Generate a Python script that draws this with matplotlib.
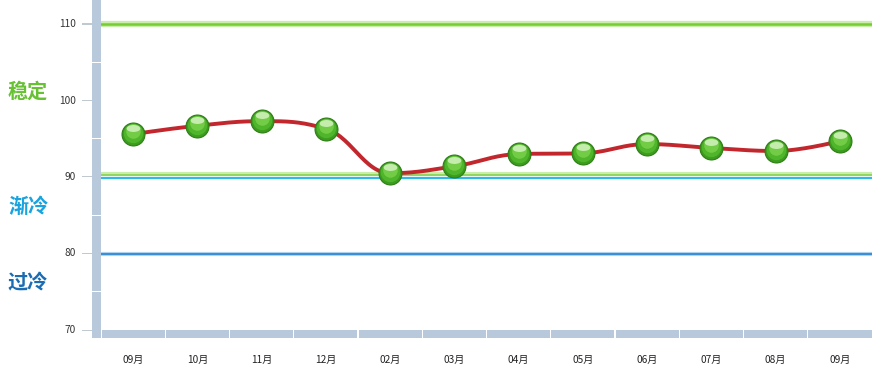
import numpy as np
import matplotlib
matplotlib.use("Agg")
import matplotlib.pyplot as plt
from matplotlib.patches import Rectangle
from matplotlib.path import Path
from matplotlib.transforms import Affine2D, offset_copy

plt.rcParams['font.family'] = ['Noto Sans CJK SC', 'DejaVu Sans']

months = ['09月', '10月', '11月', '12月', '02月', '03月', '04月', '05月', '06月', '07月', '08月', '09月']
values = [95.6, 96.7, 97.3, 96.3, 90.5, 91.4, 93.0, 93.1, 94.3, 93.8, 93.4, 94.7]
y_ticks = [70, 80, 90, 100, 110]
zone_names = ['稳定', '渐冷', '过冷']
zone_colors = ['#66c133', '#1aa3df', '#1b6db3']
zone_label_y = [101.2, 86.2, 76.2]

W, H = 891, 378
fig = plt.figure(figsize=(W / 100, H / 100), dpi=100)
fig.patch.set_facecolor('white')
left_px, right_px, bottom_px, top_px = 101, 872, 330, 0
ax = fig.add_axes([left_px / W, (H - bottom_px) / H, (right_px - left_px) / W, (bottom_px - top_px) / H])
ax.set_xlim(-0.5, len(months) - 0.5)
ymax = 110 + 24 / 7.65
ax.set_ylim(70, ymax)
for s in ax.spines.values():
    s.set_visible(False)
ax.set_xticks([])
ax.set_yticks([])
ax.patch.set_alpha(0)

# reference lines
ax.axhline(110, color='#c8eeaa', lw=4.5, zorder=1)
ax.axhline(110, color='#78cc33', lw=1.8, zorder=2)
ax.axhline(90.35, color='#c8eeaa', lw=3.0, zorder=1)
ax.axhline(90.25, color='#88d050', lw=1.2, zorder=2)
ax.axhline(89.9, color='#30b8e8', lw=1.6, zorder=2)
ax.axhline(80, color='#bcdcf2', lw=3.0, zorder=1)
ax.axhline(80, color='#3a8fd6', lw=1.6, zorder=2)

bar_col = '#b8c9dc'
def fig_rect(x0, y0, x1, y1, **kw):
    r = Rectangle((x0 / W, 1 - y1 / H), (x1 - x0) / W, (y1 - y0) / H,
                  transform=fig.transFigure, **kw)
    fig.patches.append(r)

fig_rect(92, 0, 101, 330, color=bar_col, lw=0)
fig_rect(92, 330, 101, 338, color=bar_col, lw=0)
fig_rect(102, 330, 872, 338, color=bar_col, lw=0)
for i in range(1, len(months)):
    xb = left_px + (right_px - left_px) * i / len(months)
    fig_rect(xb - 0.6, 330, xb + 0.6, 338, color='white', lw=0)
fig_rect(101, 330, 102.2, 338, color='white', lw=0)
def ypx(v):
    return (ymax - v) / (ymax - 70) * bottom_px
for v in [75, 85, 95, 105]:
    yy = ypx(v)
    fig_rect(92, yy - 0.6, 101, yy + 0.6, color='white', lw=0)
for v in y_ticks:
    yy = ypx(v)
    fig_rect(82, yy - 0.5, 92, yy + 0.5, color='#c0c8d0', lw=0)
    fig.text(76 / W, 1 - yy / H, str(v), ha='right', va='center', fontsize=7.3, color='#333333')

for i, m in enumerate(months):
    xc = left_px + (right_px - left_px) * (i + 0.5) / len(months)
    fig.text(xc / W, 1 - 360 / H, m, ha='center', va='center', fontsize=7.3, color='#222222')

for name, col, yv in zip(zone_names, zone_colors, zone_label_y):
    fig.text(8 / W, 1 - ypx(yv) / H, name, ha='left', va='center', fontsize=14.5,
             color=col, fontweight='bold')

# Highcharts-like spline
xs = np.arange(len(values), dtype=float)
ys = np.array(values, dtype=float)
sm = 1.5
n = len(xs)
lc = np.zeros((n, 2)); rc = np.zeros((n, 2))
for i in range(n):
    if i == 0 or i == n - 1:
        lc[i] = rc[i] = (xs[i], ys[i])
        continue
    lx = (sm * xs[i] + xs[i - 1]) / (sm + 1); ly = (sm * ys[i] + ys[i - 1]) / (sm + 1)
    rx = (sm * xs[i] + xs[i + 1]) / (sm + 1); ry = (sm * ys[i] + ys[i + 1]) / (sm + 1)
    corr = ((ry - ly) * (rx - xs[i])) / (rx - lx) + ys[i] - ry
    ly += corr; ry += corr
    if ly > ys[i - 1] and ly > ys[i]:
        ly = max(ys[i - 1], ys[i]); ry = 2 * ys[i] - ly
    elif ly < ys[i - 1] and ly < ys[i]:
        ly = min(ys[i - 1], ys[i]); ry = 2 * ys[i] - ly
    if ry > ys[i + 1] and ry > ys[i]:
        ry = max(ys[i + 1], ys[i]); ly = 2 * ys[i] - ry
    elif ry < ys[i + 1] and ry < ys[i]:
        ry = min(ys[i + 1], ys[i]); ly = 2 * ys[i] - ry
    lc[i] = (lx, ly); rc[i] = (rx, ry)
cx, cy = [], []
t = np.linspace(0, 1, 30)
for i in range(n - 1):
    p0 = np.array([xs[i], ys[i]]); p1 = rc[i]; p2 = lc[i + 1]; p3 = np.array([xs[i + 1], ys[i + 1]])
    b = ((1 - t) ** 3)[:, None] * p0 + (3 * (1 - t) ** 2 * t)[:, None] * p1 + \
        (3 * (1 - t) * t ** 2)[:, None] * p2 + (t ** 3)[:, None] * p3
    cx.extend(b[:, 0]); cy.extend(b[:, 1])
ax.plot(cx, cy, color='#c1272d', lw=2.8, zorder=4, solid_capstyle='round')

# sphere-like markers
ax.plot(xs, ys, 'o', ms=16.5, color='#3c9c1e', mec='#2e7d16', mew=0.8, zorder=5, ls='none')
tr_up = offset_copy(ax.transData, fig=fig, x=0, y=0.8, units='points')
ax.plot(xs, ys, 'o', ms=14, color='#4fb52a', mew=0, zorder=6, ls='none', transform=tr_up)
tr_up2 = offset_copy(ax.transData, fig=fig, x=0, y=2.3, units='points')
ax.plot(xs, ys, 'o', ms=10.5, color='#72cc45', mew=0, zorder=7, ls='none', transform=tr_up2)
ell = Path.unit_circle().transformed(Affine2D().scale(1.0, 0.5))
tr_up3 = offset_copy(ax.transData, fig=fig, x=0, y=4.4, units='points')
ax.plot(xs, ys, marker=ell, ms=10, color='#d8f5c8', alpha=0.8, mew=0, zorder=8, ls='none', transform=tr_up3)

fig.savefig('out.png', dpi=100)
